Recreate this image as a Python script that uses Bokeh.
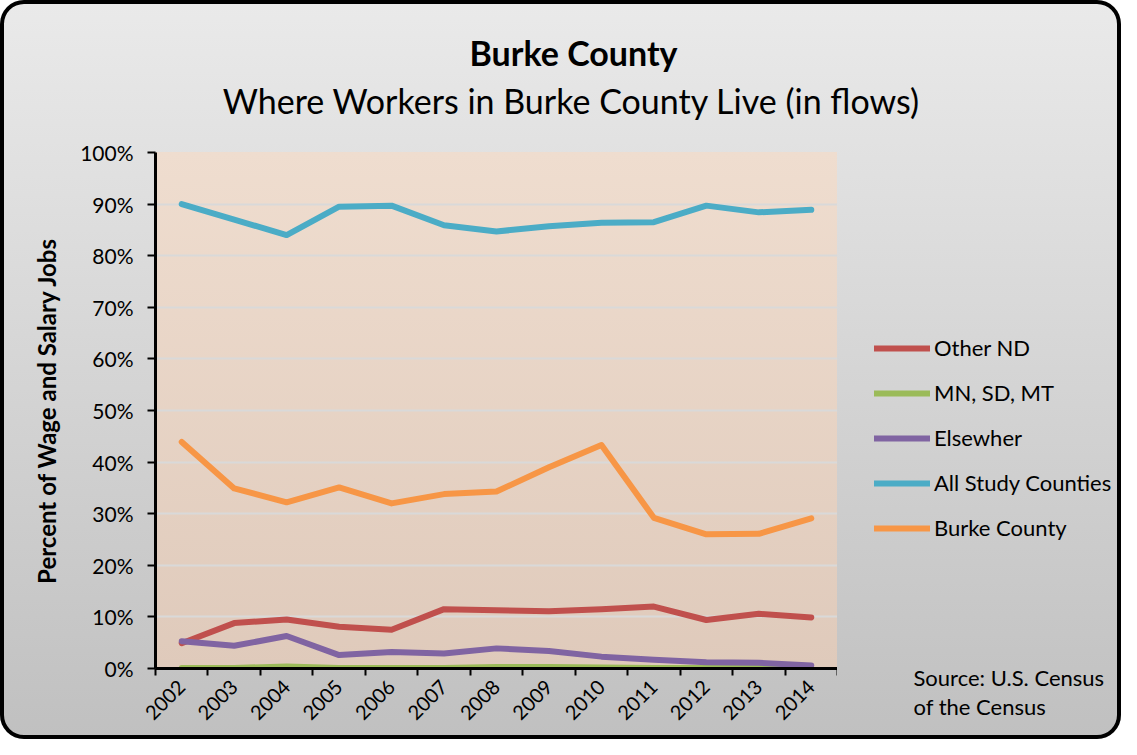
from bokeh.plotting import figure
from bokeh.layouts import column, row
from bokeh.models import (Range1d, FixedTicker, PrintfTickFormatter, Label, Legend, LegendItem,
                          InlineStyleSheet, Title)
from bokeh.embed import file_html
from bokeh.resources import INLINE
import math

years = ["2002", "2003", "2004", "2005", "2006", "2007", "2008", "2009", "2010", "2011", "2012", "2013", "2014"]
other_nd = [4.9, 8.8, 9.5, 8.1, 7.5, 11.5, 11.3, 11.1, 11.5, 12.0, 9.4, 10.6, 9.9]
mn_sd_mt = [0.1, 0.1, 0.4, 0.1, 0.1, 0.1, 0.3, 0.3, 0.2, 0.1, 0.1, 0.1, 0.1]
elsewhere = [5.3, 4.4, 6.3, 2.6, 3.2, 2.9, 3.9, 3.4, 2.3, 1.7, 1.2, 1.1, 0.6]
all_study = [90.0, 87.0, 84.0, 89.5, 89.7, 85.9, 84.7, 85.7, 86.4, 86.5, 89.7, 88.4, 88.9]
burke = [43.9, 34.9, 32.2, 35.1, 32.0, 33.8, 34.3, 39.0, 43.3, 29.2, 26.0, 26.1, 29.1]

series = [
    ("Other ND", other_nd, "#C0504D"),
    ("MN, SD, MT", mn_sd_mt, "#9BBB59"),
    ("Elsewher", elsewhere, "#8064A2"),
    ("All Study Counties", all_study, "#4BACC6"),
    ("Burke County", burke, "#F79646"),
]
title_text = "Burke County"
subtitle_text = "Where Workers in Burke County Live (in flows)"
source_lines = ["Source:  U.S. Census", "of the Census"]

FONT = "Lato"
W, H = 1121, 739
TOP_H = 120                # height of the title strip
MAIN_W = 837               # main figure ends at the plot area's right edge
SIDE_W = W - MAIN_W
BODY_H = H - TOP_H
FL, FT = 155, 152 - TOP_H
FB = H - 668


def blank_fig(w, h):
    f = figure(width=w, height=h, output_backend="svg", toolbar_location=None,
               x_range=Range1d(0, 1), y_range=Range1d(0, 1),
               x_axis_type=None, y_axis_type=None, min_border=0, title_location=None)
    f.grid.visible = False
    f.outline_line_color = None
    f.background_fill_alpha = 0
    f.border_fill_alpha = 0
    return f


# ---------- title strip ----------
top = blank_fig(W, TOP_H)
top.add_layout(Label(x=573, y=TOP_H - 52, x_units="screen", y_units="screen", text=title_text,
                     text_font=FONT, text_font_size="34px", text_font_style="bold",
                     text_align="center", text_baseline="middle", text_color="black"))
top.add_layout(Label(x=571, y=TOP_H - 100, x_units="screen", y_units="screen", text=subtitle_text,
                     text_font=FONT, text_font_size="34px",
                     text_align="center", text_baseline="middle", text_color="black"))

# ---------- main plot ----------
x = [i + 0.5 for i in range(len(years))]

p = figure(width=MAIN_W, height=BODY_H, output_backend="svg", toolbar_location=None,
           x_range=Range1d(0, len(years)), y_range=Range1d(0, 100),
           min_border_left=FL, min_border_right=0, min_border_top=FT, min_border_bottom=FB,
           title_location=None)
p.background_fill_alpha = 0
p.border_fill_alpha = 0
p.outline_line_color = None
FW, FH = MAIN_W - FL, BODY_H - FT - FB
p.stylesheets = [InlineStyleSheet(css=f""":host {{
  background: linear-gradient(to bottom, #efddcf, #dfcabb) {FL}px {FT}px / {FW}px {FH}px no-repeat;
}}""")]

p.xgrid.grid_line_color = None
p.ygrid.grid_line_color = "#d9d9d9"
p.ygrid.grid_line_width = 2
p.ygrid.ticker = FixedTicker(ticks=list(range(0, 101, 10)))

p.yaxis.ticker = FixedTicker(ticks=list(range(0, 101, 10)))
p.yaxis.formatter = PrintfTickFormatter(format="%d%%")
p.yaxis.axis_line_width = 3
p.yaxis.axis_line_color = "black"
p.yaxis.major_tick_out = 8
p.yaxis.major_tick_in = 0
p.yaxis.major_tick_line_width = 2
p.yaxis.minor_tick_line_color = None
p.yaxis.major_label_standoff = 14
p.yaxis.major_label_text_font = FONT
p.yaxis.major_label_text_font_size = "21px"
p.yaxis.major_label_text_color = "black"
p.yaxis.axis_label = "Percent of Wage and Salary Jobs"
p.yaxis.axis_label_text_font = FONT
p.yaxis.axis_label_text_font_style = "bold"
p.yaxis.axis_label_text_font_size = "24px"
p.yaxis.axis_label_text_color = "black"
p.yaxis.axis_label_standoff = 16

p.xaxis.ticker = FixedTicker(ticks=x, minor_ticks=list(range(0, len(years) + 1)))
p.xaxis.major_label_overrides = {xi: yr for xi, yr in zip(x, years)}
p.xaxis.major_tick_line_color = None
p.xaxis.minor_tick_out = 7
p.xaxis.minor_tick_in = 0
p.xaxis.minor_tick_line_width = 2
p.xaxis.minor_tick_line_color = "black"
p.xaxis.axis_line_width = 3
p.xaxis.axis_line_color = "black"
p.xaxis.major_label_orientation = math.pi / 4
p.xaxis.major_label_standoff = 8
p.xaxis.major_label_text_font = FONT
p.xaxis.major_label_text_font_size = "20px"
p.xaxis.major_label_text_color = "black"

for name, vals, col in series:
    p.line(x, vals, line_width=6, line_color=col, line_join="round", line_cap="round")

# ---------- side strip: legend and source ----------
side = blank_fig(SIDE_W, BODY_H)
side.extra_x_ranges = {"off": Range1d(-1000, -999)}   # keeps the legend's proxy lines out of view
items = []
for name, vals, col in series:
    r = side.line(x, vals, x_range_name="off", line_width=6, line_color=col, line_cap="round")
    items.append(LegendItem(label=name, renderers=[r]))

legend = Legend(items=items, location=(37, 127))
legend.background_fill_alpha = 0
legend.border_line_color = None
legend.label_text_font = FONT
legend.label_text_font_size = "22px"
legend.label_text_color = "black"
legend.glyph_width = 56
legend.glyph_height = 20
legend.label_height = 20
legend.spacing = 18
legend.padding = 5
legend.margin = 0
legend.label_standoff = 4
side.add_layout(legend)

for txt, so in zip(source_lines, [-14, 14]):
    side.add_layout(Title(text=txt, align="left", offset=913 - MAIN_W, standoff=so,
                          text_font=FONT, text_font_size="22px", text_font_style="normal",
                          text_color="black"), "below")

layout = column(top, row(p, side, spacing=0), spacing=0)
layout.stylesheets = [InlineStyleSheet(css=""":host {
  background: linear-gradient(to bottom, #eaeaea, #c0c0c0);
  border-radius: 24px;
  box-shadow: inset 0 0 0 4px #000;
}""")]

open("out.html", "w").write(file_html(layout, INLINE))
